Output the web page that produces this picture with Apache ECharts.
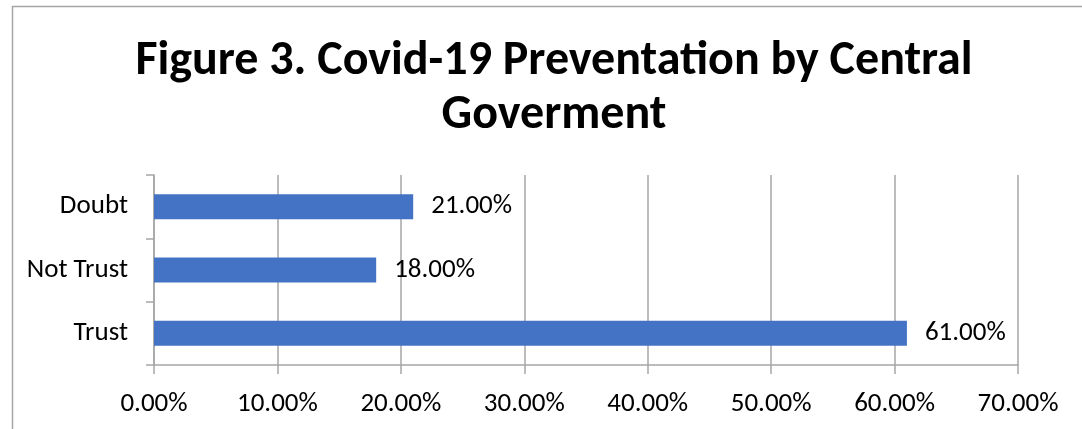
<!DOCTYPE html>
<html><head><meta charset="utf-8">
<script src="https://cdn.jsdelivr.net/npm/echarts@6/dist/echarts.min.js"></script>
<style>html,body{margin:0;padding:0;background:#fff}#c{width:1082px;height:429px}</style>
</head><body><div id="c"></div>
<script>
const titleText = 'Figure 3. Covid-19 Preventation by Central\nGoverment';
const categories = ['Trust', 'Not Trust', 'Doubt'];
const values = [61, 18, 21];
const xTicks = [0, 10, 20, 30, 40, 50, 60, 70];

const chart = echarts.init(document.getElementById('c'));
const font = 'Carlito, Calibri, Lato, "Open Sans", sans-serif';
chart.setOption({
  animation: false,
  graphic: [{
    type: 'rect', left: 10, top: 4,
    shape: { width: 1200, height: 500 },
    style: { fill: 'none', stroke: '#a6a6a6', lineWidth: 1.5 }
  }],
  title: {
    text: titleText, left: 549, top: 30, textAlign: 'center',
    textStyle: { fontFamily: font, fontWeight: 'bold', fontSize: 48, lineHeight: 54, color: '#000' }
  },
  grid: { left: 154, right: 64, top: 175, bottom: 64 },
  xAxis: {
    type: 'value', min: xTicks[0], max: xTicks[xTicks.length - 1], interval: 10,
    axisLine: { show: true, lineStyle: { color: '#a6a6a6', width: 1.5 } },
    axisTick: { show: true, length: 9, lineStyle: { color: '#a6a6a6', width: 1.5 } },
    splitLine: { show: true, lineStyle: { color: '#a6a6a6', width: 1.5 } },
    axisLabel: { formatter: v => v.toFixed(2) + '%', fontFamily: font, fontSize: 27, color: '#000', margin: 26 }
  },
  yAxis: {
    type: 'category', data: categories,
    axisLine: { show: true, lineStyle: { color: '#a6a6a6', width: 1.5 } },
    axisTick: { show: true, length: 8, lineStyle: { color: '#a6a6a6', width: 1.5 } },
    axisLabel: { fontFamily: font, fontSize: 27, color: '#000', margin: 26, padding: [4, 0, 0, 0] }
  },
  series: [{
    type: 'bar', data: values, barWidth: 25,
    itemStyle: { color: '#4472c4' },
    label: { show: true, position: 'right', distance: 18, formatter: p => p.value.toFixed(2) + '%',
      fontFamily: font, fontSize: 27, color: '#000', padding: [4, 0, 0, 0] }
  }]
});
</script></body></html>
